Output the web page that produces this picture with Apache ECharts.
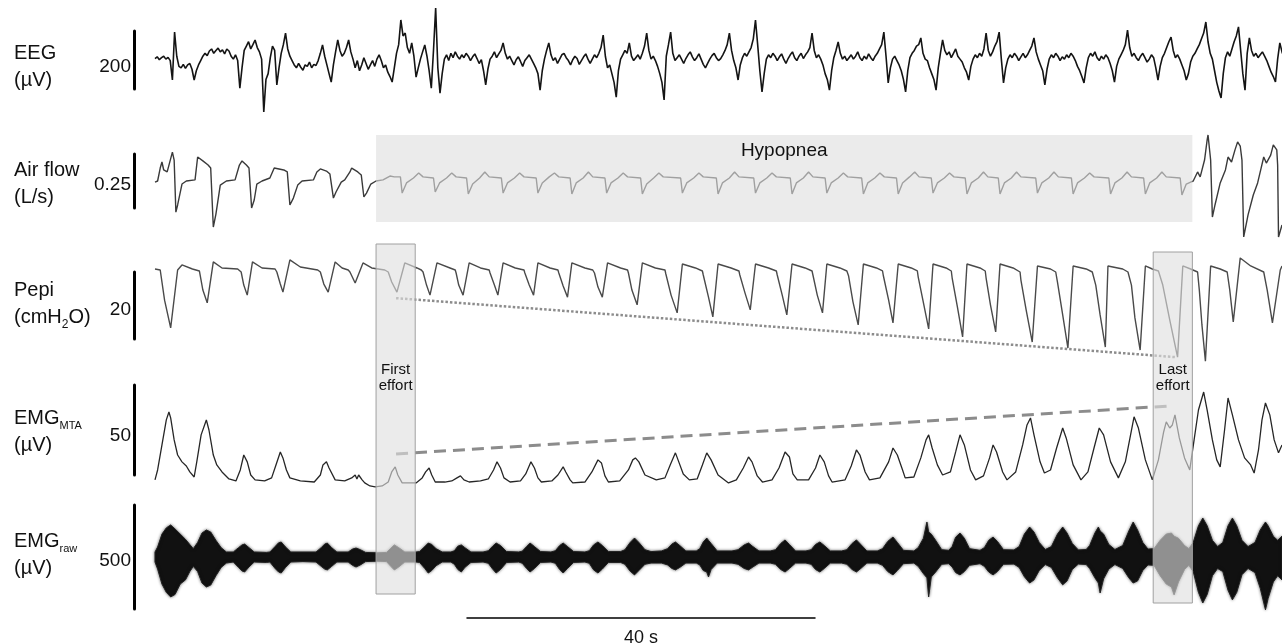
<!DOCTYPE html>
<html>
<head>
<meta charset="utf-8">
<script src="https://cdn.jsdelivr.net/npm/echarts/dist/echarts.min.js"></script>
<style>
  html, body { margin: 0; padding: 0; background: #fff; }
  #chart { width: 1282px; height: 644px; }
</style>
</head>
<body>
<div id="chart"></div>
<script>
// time axis of every trace, seconds
var T_MAX = 129.5;

// EEG, uV, one value every 0.25 s
var eegStep = 0.25;
var eeg = [
  12, 18, 8, 15, 20, 10, 16, 5, -62, 103, 20, -15, -20, -8, -22, -10, -5, -25, -62, -30,
  -10, 5, 20, 30, 22, 38, 45, 30, 40, 48, 35, 42, 28, 45, 38, 20, 10, 25, 5, -90,
  -20, 40, 55, 70, 45, 60, 76, 50, 35, 10, -172, -60, -40, 15, 55, 40, -79, -20, 30, 60,
  100, 45, 20, 5, -10, -20, -5, -18, -28, -10, -15, 0, -20, -8, -12, 5, 30, 59, 20, -10,
  -40, -69, -10, 35, 76, 40, 20, 30, 50, 76, 35, 10, -20, 5, -30, -10, 15, -5, -25, -10,
  5, -15, 10, 25, 5, -20, -10, -35, -50, -69, -20, 30, 60, 145, 90, 100, 50, 30, 66, 20,
  -52, -20, 10, 35, 59, 20, -30, -90, 40, 186, -20, -107, -40, 10, 25, 5, 30, 15, 35, 20,
  10, 25, 15, 30, 20, 5, 18, 28, 12, -5, 8, -30, -79, -25, 10, 20, 35, 15, 28, 40,
  66, 30, 10, 20, 5, -10, 8, 18, 2, -15, 5, 15, 25, 10, -5, -20, -40, -97, -30, 10,
  40, 66, 25, 5, 15, -5, 10, 25, 30, 15, 5, -10, 8, 20, 12, -8, 5, 18, 28, 10,
  -5, 10, 25, 15, 30, 50, 93, 20, -20, -10, -40, -70, -121, -30, 10, 25, 40, 30, 66, 20,
  5, 15, 25, 10, 30, 55, 100, 40, 10, 20, 5, -15, -40, -70, -131, 20, 60, 103, 30, 5,
  15, 25, 10, -5, 12, 25, 35, 18, 5, 15, 28, 10, -8, -20, -5, 10, 22, 30, 15, 5,
  12, 25, 40, 60, 100, 40, 5, -20, -62, -10, 15, 30, 20, 35, 50, 80, 145, 60, -30, -103,
  -40, 10, 25, 15, 30, 20, 5, 18, 28, 10, -5, 12, 25, 35, 15, 5, 20, 30, 12, 25,
  35, 50, 100, 40, 15, 25, 10, -10, -40, -60, -97, -30, 15, 40, 69, 30, 10, 20, 5, 15,
  25, 10, 20, 35, 15, 5, 20, 10, 28, 15, 5, 20, 30, 45, 60, 103, 20, -72, -20, 10,
  20, 5, -10, -30, -60, -103, -30, 15, 30, 40, 55, 60, 83, 30, 10, 5, -20, -40, -60, -97,
  -20, 30, 76, 40, 25, 35, 15, 30, 45, 20, 10, 0, -20, -35, -62, -15, 10, 25, 15, 30,
  20, 45, 100, 40, 20, 35, 55, 70, 103, 10, -72, -20, 10, 25, 15, 30, 20, 5, 18, 30,
  15, 25, 40, 55, 83, 35, 10, -10, -30, -79, -25, 10, 25, 15, 30, 20, 5, 18, 10, 25,
  15, 30, 20, 5, -15, -30, -50, -72, -20, 15, 30, 20, 35, 15, 5, 20, 10, 25, 15, -5,
  -30, -69, -15, 10, 25, 40, 60, 110, 50, 20, 30, 15, 5, 20, 30, 15, 0, 10, 25, 15,
  -20, -62, -15, 15, 30, 50, 70, 86, 40, 15, 25, 10, -10, -30, -62, -40, 0, 20, 30, 45,
  60, 80, 100, 138, 70, 30, 10, -30, -70, -100, -124, -40, 15, 35, 20, 45, 70, 90, 121, 40,
  -40, -97, 30, 83, 40, 20, 30, 15, 25, 35, 20, 5, -15, -35, -50, -69, 10, 66, 35, 15
];

// air flow, [s, L/s]
var airflow = [
  [0,-0.005],[0.3,0],[0.6,0.060],[0.8,0.088],[1.0,0.051],[1.4,0.042],[1.6,0.051],[2.0,0.134],[2.2,0.097],[2.4,-0.144],[2.6,-0.111],[3.1,-0.014],[3.6,0],
  [4.6,0.005],[4.9,0.111],[5.5,0.093],[6.1,0.074],[6.4,0.060],[6.7,-0.213],[7.0,-0.153],[7.5,-0.019],[8.2,0],
  [9.2,0.005],[9.7,0.074],[10.0,0.093],[10.5,0.074],[10.8,0.060],[11.1,-0.125],[11.4,-0.088],[11.7,-0.014],[12.3,0],
  [13.2,0.014],[13.7,0.060],[13.9,0.065],[14.8,0.051],[15.2,0.042],[15.5,-0.111],[15.9,-0.079],[16.4,-0.019],[16.9,0],
  [18.2,0.005],[18.6,0.042],[19.0,0.056],[19.7,0.046],[20.1,0.032],[20.5,-0.079],[20.8,-0.051],[21.4,-0.005],[21.8,0.005],
  [22.4,0.042],[22.6,0.060],[23.3,0.042],[23.7,0.028],[24.0,-0.074],[24.3,-0.056],[24.8,-0.014],[25.4,0],
  [26.2,0.005],[27.0,0.023],[27.5,0.019],
  [28.2,0.019],[28.4,-0.056],[28.9,-0.009],[29.7,0.014],[30.3,0.037],[30.8,0.019],
  [32.0,0.014],[32.2,-0.051],[32.7,-0.009],[33.5,0.014],[34.1,0.037],[34.6,0.019],
  [35.8,0.014],[36.0,-0.060],[36.5,-0.014],[37.3,0.014],[37.9,0.042],[38.4,0.019],
  [39.8,0.014],[40.0,-0.056],[40.5,-0.009],[41.3,0.014],[41.9,0.037],[42.4,0.019],
  [43.8,0.014],[44.0,-0.056],[44.5,-0.009],[45.3,0.019],[45.9,0.037],[46.4,0.019],
  [47.7,0.014],[47.9,-0.060],[48.4,-0.009],[49.2,0.014],[49.8,0.042],[50.3,0.019],
  [51.7,0.014],[51.9,-0.056],[52.4,-0.009],[53.2,0.014],[53.8,0.037],[54.3,0.019],
  [55.8,0.014],[56.0,-0.060],[56.5,-0.014],[57.3,0.014],[57.9,0.037],[58.4,0.019],
  [60.4,0.014],[60.6,-0.056],[61.1,-0.009],[61.9,0.014],[62.5,0.037],[63.0,0.019],
  [64.5,0.014],[64.7,-0.060],[65.2,-0.009],[66.0,0.014],[66.6,0.042],[67.1,0.019],
  [68.8,0.014],[69.0,-0.056],[69.5,-0.009],[70.3,0.014],[70.9,0.037],[71.4,0.019],
  [73.0,0.014],[73.2,-0.060],[73.7,-0.009],[74.5,0.014],[75.1,0.042],[75.6,0.019],
  [77.0,0.014],[77.2,-0.056],[77.7,-0.009],[78.5,0.014],[79.1,0.037],[79.6,0.019],
  [81.2,0.014],[81.4,-0.060],[81.9,-0.009],[82.7,0.014],[83.3,0.037],[83.8,0.019],
  [85.2,0.014],[85.4,-0.060],[85.9,-0.009],[86.7,0.019],[87.3,0.042],[87.8,0.019],
  [89.2,0.014],[89.4,-0.056],[89.9,-0.009],[90.7,0.014],[91.3,0.037],[91.8,0.019],
  [93.1,0.014],[93.3,-0.060],[93.8,-0.009],[94.6,0.014],[95.2,0.042],[95.7,0.019],
  [96.9,0.014],[97.1,-0.060],[97.6,-0.009],[98.4,0.014],[99.0,0.042],[99.5,0.019],
  [101.2,0.014],[101.4,-0.056],[101.9,-0.009],[102.7,0.014],[103.3,0.042],[103.8,0.019],
  [105.3,0.014],[105.5,-0.060],[106.0,-0.009],[106.8,0.014],[107.4,0.037],[107.9,0.019],
  [109.6,0.014],[109.8,-0.060],[110.3,-0.009],[111.1,0.014],[111.7,0.042],[112.2,0.019],
  [113.6,0.014],[113.8,-0.060],[114.3,-0.009],[115.1,0.014],[115.7,0.042],[116.2,0.019],
  [117.8,0.014],[118.0,-0.065],[118.5,-0.014],[119.0,-0.005],
  [119.3,0],[119.8,0.042],[120.1,0.019],[120.6,0.097],[120.9,0.190],[121.0,0.213],[121.3,0.097],[121.5,-0.167],[121.8,-0.111],[122.4,-0.009],
  [123.0,0.051],[123.3,0.111],[123.7,0.088],[124.1,0.144],[124.4,0.181],[124.7,0.162],[124.9,0.097],[125.1,-0.259],[125.6,-0.157],[126.2,-0.065],[126.7,-0.009],
  [127.1,0.060],[127.4,0.111],[127.7,0.083],[128.2,0.120],[128.5,0.167],[128.9,0.144],[129.0,0.074],[129.1,-0.259],[129.5,-0.204]
];

// oesophageal pressure, [s, cmH2O]
var pepi = [
  [0,-0.3],[0.6,-0.6],[1.1,-9.6],[1.8,-17.9],[2.6,-0.6],[3.1,0.9],[4.3,-0.3],
  [5.1,-0.9],[5.5,-6.6],[6.0,-10.4],[6.7,1.8],[7.7,0],[9.5,-0.3],
  [9.9,-1.2],[10.2,-5.1],[10.6,-8.1],[11.2,1.8],[12.3,0],[13.8,-0.3],
  [14.0,-1.2],[14.4,-4.8],[14.7,-7.2],[15.5,2.4],[16.7,0.3],[18.7,-0.6],
  [19.0,-1.2],[19.4,-4.8],[19.9,-7.2],[20.7,1.8],[21.5,0],[22.2,-0.6],
  [22.4,-1.2],[23.0,-4.5],[23.9,1.5],[24.9,0],[26.4,-0.6],
  [26.8,-1.2],[27.2,-4.2],[27.8,-7.2],[28.7,1.5],[30.1,0],[30.6,-0.6],
  [30.8,-1.2],[31.2,-5.1],[31.6,-8.1],[32.4,1.5],[33.9,0],[34.5,-0.6],
  [34.6,-1.5],[34.9,-5.1],[35.4,-8.1],[36.1,1.5],[37.4,0],[38.4,-0.6],
  [38.5,-1.5],[39.0,-5.1],[39.4,-8.1],[40.0,1.5],[41.4,0],[42.4,-0.6],
  [42.5,-1.5],[43.0,-5.1],[43.5,-8.1],[44.0,1.5],[45.4,0],[46.3,-0.6],
  [46.4,-1.5],[46.9,-5.4],[47.4,-8.7],[47.9,1.5],[49.4,0],[50.3,-0.6],
  [50.5,-1.5],[50.9,-5.7],[51.4,-8.7],[52.0,1.5],[53.5,0],[54.3,-0.6],
  [54.4,-1.5],[54.8,-6.6],[55.4,-11.0],[56.0,1.5],[57.5,0],[58.6,-0.6],
  [58.7,-1.8],[59.3,-8.1],[60.0,-13.4],[60.6,1.2],[62.1,0],[62.9,-0.9],
  [63.0,-2.1],[63.6,-8.7],[64.1,-14.6],[64.7,1.2],[66.2,0],[67.1,-0.9],
  [67.2,-2.1],[67.8,-7.5],[68.4,-12.5],[69.0,1.2],[70.5,0],[71.4,-0.9],
  [71.5,-2.1],[72.1,-8.4],[72.6,-14.0],[73.2,1.2],[74.7,0],[75.5,-0.9],
  [75.6,-2.1],[76.1,-8.1],[76.7,-13.4],[77.2,1.2],[78.7,0],[79.5,-0.9],
  [79.7,-2.4],[80.2,-10.1],[80.8,-17.0],[81.4,1.2],[82.9,0],[83.6,-0.9],
  [83.7,-2.4],[84.3,-9.6],[84.8,-16.4],[85.4,1.2],[86.9,0],[87.6,-0.9],
  [87.7,-2.7],[88.3,-10.4],[88.9,-18.2],[89.4,1.2],[90.9,0],[91.5,-0.9],
  [91.6,-3.0],[92.2,-11.6],[92.8,-20.6],[93.3,1.2],[94.8,0],[95.4,-0.9],
  [95.5,-3.0],[96.0,-11.0],[96.6,-19.1],[97.1,1.2],[98.6,0],[99.4,-1.2],
  [99.5,-3.6],[100.1,-12.5],[100.8,-22.1],[101.4,0.6],[102.9,-0.3],[103.5,-1.2],
  [103.7,-4.2],[104.3,-14.0],[104.9,-23.9],[105.5,0.6],[107.0,-0.3],[107.7,-1.2],
  [108.1,-5.1],[108.6,-14.0],[109.2,-23.6],[109.5,0.6],[111.2,-0.3],[111.8,-1.2],
  [112.2,-5.1],[112.6,-14.9],[113.2,-24.5],[113.8,0.6],[114.6,-0.3],[115.3,-0.9],
  [115.8,-5.1],[116.6,-15.5],[117.5,-26.6],[118.1,0.6],[119.0,-0.3],[119.8,-1.2],
  [120.0,-6.6],[120.3,-17.0],[120.7,-27.8],[121.3,0.6],[122.4,-0.3],[123.2,-1.2],
  [123.5,-6.6],[123.9,-16.1],[124.7,3.0],[125.9,0.6],[127.4,-1.2],
  [127.8,-6.6],[128.4,-16.4],[129.3,-0.6],[129.5,0.6]
];

// moving time average of the EMG, [s, uV]
var emgMta = [
  [0,5.6],[0.3,11.1],[0.8,25.0],[1.3,38.9],[1.6,43.3],[1.8,40.0],[2.2,27.8],[2.6,19.4],[3.1,15.6],[3.6,13.3],[4.0,10.0],[4.5,7.2],
  [4.8,15.6],[5.3,30.6],[5.9,38.9],[6.2,33.3],[6.7,19.4],[7.1,13.9],[7.7,10.0],[8.5,6.1],[9.3,5.0],
  [9.8,11.1],[10.2,19.4],[10.6,15.6],[11.0,8.3],[11.5,5.6],[12.6,5.0],
  [13.4,6.7],[13.9,13.9],[14.4,21.1],[14.7,17.8],[15.1,11.1],[15.5,6.7],[16.7,5.0],[18.3,4.4],
  [19.0,8.3],[19.3,13.9],[19.7,15.6],[20.0,12.2],[20.7,5.6],[21.8,5.0],
  [22.6,6.7],[23.0,8.3],[23.2,6.1],[23.4,8.3],[23.8,5.6],[24.1,3.9],[24.7,2.2],[25.3,1.7],[26.1,2.2],[26.8,4.4],
  [27.2,10.0],[27.6,12.8],[27.9,8.3],[28.4,3.9],[29.3,3.9],[30.0,3.9],
  [30.7,6.7],[31.1,10.0],[31.5,12.2],[31.8,8.3],[32.2,4.4],[33.3,4.4],
  [34.1,5.0],[34.7,6.7],[35.1,7.8],[35.5,5.6],[36.1,4.4],[37.4,5.0],
  [38.3,6.1],[38.9,11.1],[39.3,15.6],[39.7,12.2],[40.1,6.7],[40.8,4.4],[42.0,5.0],
  [42.6,8.9],[43.2,15.6],[43.6,12.2],[44.0,6.7],[44.4,4.4],[45.6,5.0],
  [46.3,8.3],[46.9,12.8],[47.2,10.0],[47.7,5.6],[48.0,3.9],[49.4,4.4],
  [50.2,10.0],[50.9,16.7],[51.3,15.0],[51.7,7.8],[52.1,4.4],[53.4,5.0],
  [54.4,11.1],[54.9,16.7],[55.2,17.8],[55.6,15.6],[56.3,8.3],[57.6,5.6],
  [58.6,6.7],[59.2,13.9],[59.8,20.6],[60.1,16.7],[60.7,8.9],[61.4,5.6],
  [62.3,6.1],[62.9,13.9],[63.4,20.6],[63.9,16.7],[64.7,8.3],[65.9,3.9],
  [66.8,5.6],[67.6,12.2],[68.2,18.3],[68.6,15.6],[69.2,7.8],[69.8,4.4],
  [70.9,5.6],[71.7,12.2],[72.4,21.1],[72.9,18.3],[73.3,8.9],[73.8,5.6],
  [75.1,5.6],[75.9,12.2],[76.4,19.4],[76.9,15.6],[77.4,7.8],[77.8,4.4],
  [79.3,5.6],[80.0,13.3],[80.6,22.2],[81.0,19.4],[81.6,10.0],[82.1,5.6],
  [83.3,6.7],[84.3,15.6],[84.8,23.3],[85.3,19.4],[85.9,11.1],[86.2,6.7],
  [87.2,7.2],[88.0,17.8],[88.6,27.8],[88.9,30.6],[89.3,23.3],[89.9,13.9],[90.5,8.3],
  [91.4,10.0],[92.0,21.1],[92.5,30.6],[93.0,25.0],[93.7,11.1],[94.3,5.6],
  [95.2,7.8],[95.9,17.8],[96.3,25.0],[96.7,21.1],[97.4,10.0],[97.9,5.6],
  [98.9,10.0],[99.7,25.0],[100.2,36.1],[100.6,40.0],[101.0,30.6],[101.7,15.6],[102.2,9.4],
  [102.9,11.1],[103.6,23.3],[104.3,34.4],[104.7,28.9],[105.5,13.9],[106.4,5.6],
  [107.2,10.0],[107.9,23.3],[108.5,34.4],[109.0,30.6],[109.8,15.6],[110.7,6.7],
  [111.5,15.6],[112.1,30.6],[112.5,40.6],[113.0,34.4],[113.8,16.7],[114.6,5.6],
  [115.3,16.7],[115.9,32.2],[116.2,37.8],[116.6,34.4],[116.9,36.1],[117.2,41.7],[117.7,28.9],[118.3,17.8],[118.9,11.1],
  [119.4,27.8],[119.9,44.4],[120.5,54.4],[120.9,44.4],[121.5,27.8],[122.0,16.7],[122.4,12.8],
  [122.9,33.3],[123.3,51.1],[123.8,41.7],[124.5,27.8],[125.2,17.8],[125.9,13.9],[126.3,9.4],
  [126.8,22.2],[127.2,38.9],[127.6,48.3],[128.1,41.7],[128.6,27.8],[129.1,20.6],[129.5,25.0]
];

// raw EMG envelope, [s, upper uV, lower uV]
var emgRaw = [
  [0,24,-24],[0.3,48,-58],[0.8,110,-130],[1.3,140,-170],[1.8,154,-192],[2.3,135,-180],[2.9,110,-130],[3.5,85,-110],[4.0,60,-70],[4.4,40,-45],
  [4.9,70,-70],[5.4,115,-125],[5.9,130,-144],[6.4,120,-135],[7.0,80,-90],[7.6,45,-50],[8.2,24,-29],
  [9.0,24,-24],[9.6,45,-50],[10.0,58,-67],[10.3,62,-72],[10.8,45,-48],[11.4,24,-24],[12.8,22,-26],
  [13.2,24,-24],[13.8,50,-55],[14.2,68,-72],[14.5,72,-77],[15.0,48,-50],[15.6,24,-24],[17.0,24,-22],
  [18.5,24,-24],[19.1,45,-45],[19.5,62,-58],[19.8,67,-62],[20.3,45,-45],[20.9,24,-24],
  [22.2,24,-24],[22.7,38,-40],[23.1,43,-48],[23.6,35,-38],[24.2,22,-22],[25.6,20,-20],
  [26.6,22,-22],[27.1,42,-45],[27.5,58,-62],[28.0,45,-48],[28.7,24,-24],[30.0,24,-24],
  [30.4,26,-26],[31.0,50,-55],[31.4,67,-77],[31.8,60,-65],[32.3,40,-42],[33.0,24,-24],[34.0,24,-24],
  [34.4,30,-35],[34.8,52,-60],[35.2,58,-72],[35.6,45,-50],[36.3,24,-26],[37.7,24,-24],
  [38.3,30,-30],[38.8,52,-58],[39.2,67,-77],[39.7,55,-60],[40.4,26,-26],[41.8,24,-24],
  [42.2,28,-30],[42.7,50,-55],[43.1,67,-72],[43.6,50,-55],[44.3,26,-26],[45.5,24,-24],
  [46.0,30,-30],[46.5,55,-60],[46.9,67,-77],[47.4,50,-55],[48.1,26,-26],[49.4,24,-24],
  [49.9,30,-30],[50.4,58,-62],[50.9,72,-77],[51.4,55,-58],[52.1,26,-26],[53.5,26,-26],
  [54.0,35,-35],[54.6,70,-68],[55.1,91,-86],[55.6,70,-65],[56.3,35,-35],[57.0,26,-29],[58.2,29,-29],
  [58.9,40,-38],[59.4,62,-55],[59.8,72,-62],[60.3,55,-50],[61.0,29,-29],[62.2,29,-29],
  [62.6,40,-38],[63.0,72,-65],[63.4,91,-72],[63.6,80,-96],[63.9,65,-60],[64.6,29,-29],[66.3,29,-29],
  [67.0,35,-35],[67.7,58,-55],[68.2,67,-62],[68.7,50,-48],[69.4,29,-29],[70.7,29,-29],
  [71.3,35,-35],[71.9,65,-60],[72.4,82,-72],[72.9,60,-55],[73.6,29,-29],[74.8,29,-29],
  [75.4,35,-35],[75.9,60,-60],[76.4,72,-72],[76.9,55,-55],[77.6,29,-29],[78.9,29,-29],
  [79.5,35,-35],[80.1,65,-60],[80.6,82,-72],[81.1,60,-55],[81.8,29,-29],[83.0,29,-29],
  [83.6,40,-40],[84.2,75,-70],[84.8,96,-86],[85.3,70,-65],[86.0,32,-32],[87.2,29,-29],
  [87.7,45,-45],[88.3,90,-80],[88.7,168,-100],[88.9,120,-192],[89.2,110,-96],[89.7,80,-72],[90.4,35,-35],[91.2,32,-32],
  [91.6,50,-48],[92.0,95,-75],[92.5,115,-86],[93.0,90,-70],[93.6,40,-40],[94.8,32,-32],
  [95.3,45,-45],[95.8,80,-72],[96.3,96,-86],[96.8,75,-70],[97.5,35,-35],[98.7,34,-34],
  [99.3,50,-50],[99.9,110,-95],[100.5,144,-125],[101.0,120,-110],[101.6,70,-65],[102.3,36,-36],
  [103.0,50,-50],[103.7,110,-100],[104.3,144,-134],[104.8,115,-115],[105.4,65,-60],[106.1,34,-34],[107.0,36,-36],
  [107.4,55,-55],[108.0,115,-100],[108.4,144,-125],[108.6,125,-173],[109.0,110,-105],[109.6,60,-58],[110.3,36,-36],
  [111.2,55,-55],[111.9,125,-100],[112.4,168,-125],[112.9,130,-115],[113.5,70,-65],[114.1,38,-38],
  [114.8,40,-40],[115.5,80,-90],[116.2,110,-130],[116.8,115,-144],[117.1,100,-182],[117.6,90,-120],[118.3,55,-60],[118.8,40,-40],
  [119.3,70,-70],[119.9,150,-170],[120.4,187,-221],[120.9,150,-180],[121.5,80,-90],[122.1,50,-55],
  [122.7,70,-70],[123.3,150,-160],[123.8,187,-206],[124.3,150,-170],[124.9,80,-85],[125.6,50,-55],
  [126.4,70,-75],[127.0,130,-150],[127.6,168,-254],[127.9,150,-200],[128.5,100,-120],[129.0,80,-90],[129.5,100,-110]
];

// annotations (s and channel units)
var hypopnea = [25.4, 119.2];
var firstEffort = [25.4, 29.9];
var lastEffort = [114.7, 119.2];
var pepiTrend = [[27.7, -9.0], [117.2, -26.6]];
var mtaTrend = [[27.7, 20.0], [116.8, 46.7]];
var scaleBars = ['200', '0.25', '20', '50', '500'];
var timeBar = 40;

var FONT = '"Liberation Sans", Arial, sans-serif';
var chart = echarts.init(document.getElementById('chart'), null, { renderer: 'canvas' });

var grids = [
  { left: 155, right: 0, top: 31, height: 58 },
  { left: 155, right: 0, top: 154, height: 54 },
  { left: 155, right: 0, top: 272, height: 67 },
  { left: 155, right: 0, top: 385, height: 90 },
  { left: 155, right: 0, top: 505, height: 104 },
  { left: 155, right: 0, top: 0, height: 644 },
  { left: 467, width: 348, top: 617, height: 1 }
];
var yRanges = [[-93, 107], [-0.125, 0.125], [-21.2, -1.2], [8.3, 58.3], [-250, 250]];
// vertical centre of each scale-bar number
var barLabelY = [67, 185, 310, 436, 561];

var xAxes = [];
var yAxes = [];
for (var i = 0; i < 6; i++) {
  xAxes.push({ gridIndex: i, type: 'value', min: 0, max: T_MAX, show: false });
}
xAxes.push({
  gridIndex: 6, type: 'value', min: 0, max: timeBar,
  axisLine: { show: true, onZero: false, lineStyle: { color: '#000', width: 1.5 } },
  axisTick: { show: false }, axisLabel: { show: false }, splitLine: { show: false },
  name: timeBar + ' s', nameLocation: 'middle', nameGap: 12,
  nameTextStyle: { fontSize: 18, color: '#111', fontFamily: FONT }
});
for (var j = 0; j < 5; j++) {
  yAxes.push({
    gridIndex: j, type: 'value', min: yRanges[j][0], max: yRanges[j][1],
    offset: 21,
    axisLine: { show: true, onZero: false, lineStyle: { color: '#000', width: 3 } },
    axisTick: { show: false }, axisLabel: { show: false }, splitLine: { show: false }
  });
}
yAxes.push({ gridIndex: 5, type: 'value', min: 0, max: 644, inverse: true, show: false });
yAxes.push({ gridIndex: 6, type: 'value', min: 0, max: 1, show: false });

function trace(idx, data, color, width, dash) {
  return {
    type: 'line', xAxisIndex: idx, yAxisIndex: idx, data: data,
    showSymbol: false, symbol: 'none', clip: false, silent: true, z: dash ? 3 : 2,
    lineStyle: { color: color, width: width, type: dash || 'solid' }
  };
}

var boxStyle = { color: 'rgba(222,222,222,0.62)', borderColor: '#a0a0a0', borderWidth: 1 };
var labelStyle = { show: true, color: '#111', fontFamily: FONT, fontSize: 15, lineHeight: 16, align: 'center', verticalAlign: 'top' };

var sub = function (size) {
  return {
    a: { fontSize: 20, lineHeight: 27, fontFamily: FONT, fill: '#111' },
    s: { fontSize: size, lineHeight: 12, verticalAlign: 'bottom', fontFamily: FONT, fill: '#111' }
  };
};

var graphics = [
  { type: 'text', left: 14, top: 40, style: { text: 'EEG\n(\u00b5V)', fill: '#111', fontSize: 20, fontFamily: FONT, lineHeight: 27 } },
  { type: 'text', left: 14, top: 157, style: { text: 'Air flow\n(L/s)', fill: '#111', fontSize: 20, fontFamily: FONT, lineHeight: 27 } },
  { type: 'text', left: 14, top: 280, style: { text: '{a|Pepi}\n{a|(cmH}{s|2}{a|O)}', rich: sub(12) } },
  { type: 'text', left: 14, top: 408, style: { text: '{a|EMG}{s|MTA}\n{a|(\u00b5V)}', rich: sub(11) } },
  { type: 'text', left: 14, top: 531, style: { text: '{a|EMG}{s|raw}\n{a|(\u00b5V)}', rich: sub(11) } }
];
scaleBars.forEach(function (t, k) {
  graphics.push({
    type: 'text', x: 131, y: barLabelY[k],
    style: { text: t, fill: '#111', fontSize: 19, fontFamily: FONT, align: 'right', verticalAlign: 'middle' }
  });
});

var option = {
  animation: false,
  backgroundColor: '#fff',
  grid: grids,
  xAxis: xAxes,
  yAxis: yAxes,
  graphic: graphics,
  series: [
    trace(0, eeg.map(function (v, i) { return [i * eegStep, v]; }), '#141414', 1.6),
    trace(1, airflow, '#3a3a3a', 1.4),
    trace(2, pepi, '#4a4a4a', 1.4),
    trace(2, pepiTrend, '#8c8c8c', 2.5, [2.5, 2]),
    trace(3, emgMta, '#262626', 1.3),
    trace(3, mtaTrend, '#8c8c8c', 3, [12, 7]),
    {
      type: 'custom', xAxisIndex: 4, yAxisIndex: 4, data: [[0, 0]], clip: false, silent: true, z: 2,
      renderItem: function (params, api) {
        var pts = [];
        for (var a = 0; a < emgRaw.length; a++) pts.push(api.coord([emgRaw[a][0], emgRaw[a][1]]));
        for (var b = emgRaw.length - 1; b >= 0; b--) pts.push(api.coord([emgRaw[b][0], emgRaw[b][2]]));
        return {
          type: 'polygon', shape: { points: pts },
          style: { fill: '#111', stroke: '#222', lineWidth: 1, shadowBlur: 3, shadowColor: 'rgba(0,0,0,0.55)' }
        };
      }
    },
    {
      type: 'line', xAxisIndex: 5, yAxisIndex: 5, data: [], z: 10, silent: true,
      markArea: {
        silent: true, z: 10,
        data: [
          [{ xAxis: hypopnea[0], yAxis: 135, itemStyle: { color: 'rgba(222,222,222,0.62)', borderWidth: 0 },
             label: { show: true, formatter: 'Hypopnea', position: 'insideTop', distance: 6, color: '#111', fontFamily: FONT, fontSize: 19 } },
           { xAxis: hypopnea[1], yAxis: 222 }],
          [{ xAxis: firstEffort[0], yAxis: 244, itemStyle: boxStyle,
             label: Object.assign({ formatter: 'First\neffort', position: ['50%', 118] }, labelStyle) },
           { xAxis: firstEffort[1], yAxis: 594 }],
          [{ xAxis: lastEffort[0], yAxis: 252, itemStyle: boxStyle,
             label: Object.assign({ formatter: 'Last\neffort', position: ['50%', 110] }, labelStyle) },
           { xAxis: lastEffort[1], yAxis: 603 }]
        ]
      }
    },
    { type: 'line', xAxisIndex: 6, yAxisIndex: 6, data: [], silent: true }
  ]
};
chart.setOption(option);
</script>
</body>
</html>
